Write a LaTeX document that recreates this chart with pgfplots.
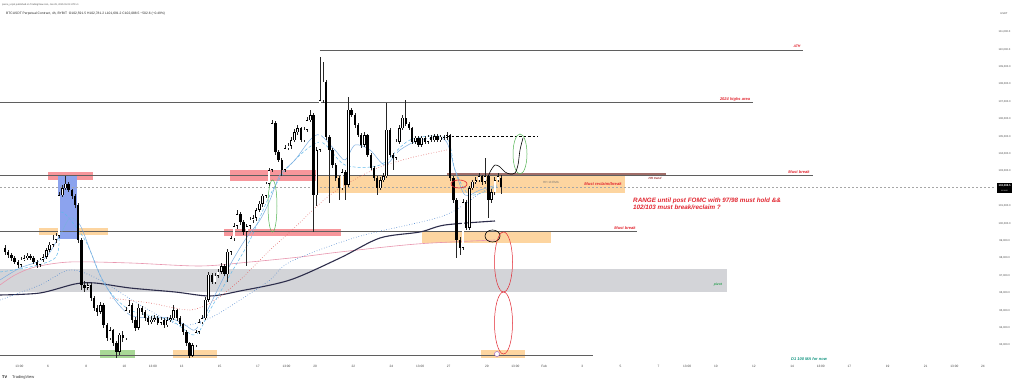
\documentclass[border=0pt]{standalone}
\usepackage{pgfplots}
\pgfplotsset{compat=1.18}
\usepackage{pgfplotstable}
\usetikzlibrary{backgrounds}
\usepackage{fontspec}
\setmainfont{Liberation Sans}

\definecolor{lvl}{RGB}{95,95,95}
\definecolor{redbox}{RGB}{247,150,155}
\definecolor{orbox}{RGB}{253,213,160}
\definecolor{bluebox}{RGB}{140,163,238}
\definecolor{graybox}{RGB}{211,212,216}
\definecolor{grnbox}{RGB}{168,216,150}
\definecolor{annred}{RGB}{226,38,48}
\definecolor{pinkma}{RGB}{232,150,175}
\definecolor{navyma}{RGB}{45,45,75}
\definecolor{ltblue}{RGB}{125,175,225}
\definecolor{dotblue}{RGB}{70,130,205}
\definecolor{dotred}{RGB}{225,95,95}
\definecolor{stepblue}{RGB}{95,185,235}
\definecolor{axtext}{RGB}{70,70,70}
\definecolor{hhtrend}{RGB}{160,110,105}
\definecolor{hhtxt}{RGB}{150,40,40}
\definecolor{grn}{RGB}{80,180,80}
\definecolor{pivotgreen}{RGB}{40,160,80}
\definecolor{tealtxt}{RGB}{20,150,130}
\definecolor{purp}{RGB}{150,80,200}

% 4h candles, i = candle index (time = Jan 3.75 + i/6 days)
\pgfplotstableread{
i o h l c
0 98590 98760 98180 98360
1 98360 98450 98000 98180
2 98180 98300 97850 98010
3 98010 98100 97650 97780
4 97780 97900 97440 97610
5 97610 98050 97500 97900
6 97900 98200 97820 98010
7 98010 98300 97900 98130
8 98130 98250 97880 98010
9 98010 98100 97650 97780
10 97780 97880 97440 97610
11 97610 98000 97500 97900
12 97900 98250 97800 98070
13 98070 98600 97950 98470
14 98470 98950 98350 98760
15 98760 99330 98650 99050
16 99050 99450 98900 99280
17 99280 101800 99160 101630
18 101630 102200 101500 102030
19 102030 102720 101900 102270
20 102270 102400 101800 101920
21 101920 102000 101400 101580
22 101580 101700 100900 101060
23 101060 101150 98900 99050
24 99050 99150 96170 96460
25 96460 96700 96050 96290
26 96290 96650 96150 96460
27 96460 96550 95550 95710
28 95710 95850 94950 95140
29 95140 95300 94700 94910
30 94910 95500 94800 95310
31 95310 95400 94000 94160
32 94160 94300 93250 93410
33 93410 94050 93300 93870
34 93870 93950 92950 93130
35 93130 93250 92270 92610
36 92610 93700 92450 93590
37 93590 93800 93200 93410
38 93410 95200 93300 95020
39 95020 95600 94850 95310
40 95310 95400 94300 94450
41 94450 94600 93800 93990
42 93990 95350 93900 95140
43 95140 95250 94750 94910
44 94910 95000 94400 94560
45 94560 94700 94150 94330
46 94330 94650 94200 94450
47 94450 94750 94350 94560
48 94560 94650 94150 94280
49 94280 94600 94150 94450
50 94450 94550 94000 94160
51 94160 94600 94050 94450
52 94450 94750 94350 94560
53 94560 95300 94450 95020
54 95020 95100 94400 94560
55 94560 94650 94100 94220
56 94220 94300 93600 93760
57 93760 93850 92950 93130
58 93130 93200 92270 92380
59 92380 93150 92300 93010
60 93010 93900 92900 93760
61 93760 94500 93650 94330
62 94330 94750 94200 94560
63 94560 95750 94450 95600
64 95600 97200 95500 97040
65 97040 97150 96500 96630
66 96630 97150 96500 96980
67 96980 97400 96850 97210
68 97210 97700 97100 97550
69 97550 97650 96950 97090
70 97090 98500 96630 98360
71 98360 99300 98200 99160
72 99160 100000 99000 99850
73 99850 100770 99700 100540
74 100540 100650 99900 100080
75 100080 100200 99350 99510
76 99510 99950 97550 99850
77 99850 100350 99700 100200
78 100200 100500 100050 100310
79 100310 100900 100150 100770
80 100770 101300 100650 101120
81 101120 101700 100950 101580
82 101580 102400 101450 102270
83 102270 103200 102150 103070
84 103070 105940 102950 105770
85 105770 105900 103950 104100
86 104100 104200 103500 103640
87 103640 103750 102720 103070
88 103070 104500 102950 104330
89 104330 104600 104200 104450
90 104450 104950 104300 104790
91 104790 105400 104650 105250
92 105250 105650 105100 105480
93 105480 105550 104650 104790
94 104790 105550 104650 105370
95 105370 106100 105250 105940
96 105940 106520 105800 106230
97 106230 106350 99510 101630
98 101630 104400 101000 104220
99 104220 109560 104100 107090
100 107090 109280 106900 108130
101 108130 108250 104790 104970
102 104970 105100 101180 104220
103 104220 104350 103200 103360
104 103360 103450 102450 102610
105 102610 102700 101350 102030
106 102030 103100 101900 102950
107 102950 103050 101350 102210
108 102210 107260 102100 106520
109 106520 106650 106100 106230
110 106230 106350 105500 105660
111 105660 105750 104950 105080
112 105080 105200 104350 104510
113 104510 105250 104400 105080
114 105080 105150 103800 103930
115 103930 104050 103050 103180
116 103180 103300 102450 102610
117 102610 102700 101630 102030
118 102030 102650 101900 102490
119 102490 102900 102350 102720
120 102720 106920 102600 105370
121 105370 105500 103800 103930
122 103930 104050 103070 103760
123 103760 104850 103650 104680
124 104680 105650 104550 105480
125 105480 106250 105350 106060
126 106060 107090 105600 105710
127 105710 105800 105350 105480
128 105480 105550 104550 104680
129 104680 105050 104550 104910
130 104910 105000 104400 104510
131 104510 105050 104400 104910
132 104910 105000 104550 104680
133 104680 105100 104550 104970
134 104970 105100 104650 104790
135 104790 105150 104700 105020
136 105020 105150 104650 104790
137 104790 105100 104650 104970
138 104970 105080 104800 104910
139 104910 105250 104800 105080
140 105080 105150 102450 102610
141 102610 102700 101200 101350
142 101350 101450 98010 99050
143 99050 99200 98180 98590
144 98590 101400 98450 101230
145 101230 101350 99600 99740
146 99740 102150 99600 102030
147 102030 102500 101900 102380
148 102380 102650 102250 102490
149 102490 102900 102350 102720
150 102720 102800 102200 102380
151 102380 103760 102250 102720
152 102720 102800 100310 101350
153 101350 101950 101200 101800
154 101800 102650 101650 102490
155 102490 102900 102350 102720
156 102591.5 102781.2 101691.2 102088.5
}\candles

\tikzset{ann/.style={font=\fontsize{4}{4.5}\selectfont\bfseries\itshape, text=annred, inner sep=0pt}}
\pgfplotsset{candlebar/.style={draw=none, mark=none, forget plot, error bars/y dir=both, error bars/y explicit, error bars/error mark=none}}

\begin{document}
\begin{tikzpicture}
\begin{axis}[
  scale only axis, width=995pt, height=348pt,
  xmin=3.484, xmax=55.633, ymin=92264, ymax=112264,
  axis line style={draw=none},
  tick style={draw=none},
  major tick length=0pt,
  scaled y ticks=false,
  ytick={93000,94000,...,111000},
  yticklabel pos=right,
  /pgf/number format/assume math mode=true,
  yticklabel={\pgfmathprintnumber[fixed,fixed zerofill,precision=1,1000 sep={,}]{\tick}},
  yticklabel style={anchor=center, xshift=9.5pt, font=\fontsize{2.7}{3}\selectfont, text=axtext},
  xtick={4.5,6,8,10,11.5,13,15,17,18.5,20,22,24,25.5,27,29,30.5,32,34,36,38,39.5,41,43,45,46.5,48,50,52,53.5,55},
  xticklabels={13:00,6,8,10,13:00,13,15,17,13:00,20,22,24,13:00,27,29,13:00,Feb,3,5,7,13:00,10,12,14,13:00,17,19,21,13:00,24},
  xticklabel style={anchor=center, yshift=-8pt, font=\fontsize{3.2}{4}\selectfont, text=axtext},
]
\coordinate (O) at (rel axis cs:0,0);
% zones
\fill[graybox] (axis cs:3.484,96058) rectangle (axis cs:41.587,97380);
\fill[orbox] (axis cs:20.15,101747) rectangle (axis cs:36.241,102724);
\fill[orbox] (axis cs:25.601,98874) rectangle (axis cs:32.362,99563);
\fill[orbox] (axis cs:5.528,99334) rectangle (axis cs:9.144,99736);
\fill[orbox] (axis cs:12.551,92264) rectangle (axis cs:14.857,92725);
\fill[orbox] (axis cs:28.694,92264) rectangle (axis cs:31.0,92725);
\fill[grnbox] (axis cs:8.725,92264) rectangle (axis cs:10.56,92725);
\fill[redbox] (axis cs:6.0,102494) rectangle (axis cs:8.358,102954);
\fill[redbox] (axis cs:15.539,102437) rectangle (axis cs:20.151,103069);
\fill[redbox] (axis cs:15.224,99276) rectangle (axis cs:21.356,99678);
\fill[bluebox] (axis cs:6.524,99104) rectangle (axis cs:7.52,102724);

% levels
\addplot[lvl, line width=0.8pt] coordinates {(20.255,109925) (45.57,109925)};
\addplot[lvl, line width=0.8pt] coordinates {(3.484,106936) (42.949,106936)};
\addplot[lvl, line width=0.8pt] coordinates {(3.484,102753) (46.094,102753)};
\addplot[hhtrend, line width=1.1pt] coordinates {(26.912,102839) (38.39,102839)};
\addplot[lvl, line width=0.8pt] coordinates {(3.484,99563) (36.87,99563)};
\addplot[lvl, line width=0.8pt] coordinates {(3.484,92437) (34.564,92437)};
\addplot[black!35, line width=0.5pt, dash pattern=on 2pt off 2pt] coordinates {(3.484,102088.5) (55.633,102088.5)};

% moving averages
\addplot[pinkma, line width=0.6pt, smooth] coordinates {(3.484,96460) (4.270,97035) (5.318,97494) (7.153,97782) (10.297,97725) (13.966,97552) (16.587,97782) (19.207,98069) (21.304,98357) (25.339,98817) (29.427,99046)};
\addplot[navyma, line width=1.1pt, smooth] coordinates {(3.484,95885) (5.580,96000) (7.415,96518) (8.463,96575) (10.297,96288) (12.656,96058) (14.490,95828) (16.063,96115) (18.683,96747) (21.304,98012) (23.400,99161) (25.497,99506) (26.807,99908) (29.427,100138)};
\addplot[dotblue, line width=0.6pt, dotted, smooth] coordinates {(3.484,95598) (5.580,96460) (7.153,97322) (8.725,96747) (10.822,95311) (12.918,94161) (14.490,94564) (16.063,95598) (17.635,96747) (18.683,97782) (22.195,99219) (26.702,100425) (28.746,101805) (29.532,102092)};
\addplot[dotred, line width=0.6pt, dotted, smooth] coordinates {(9.249,95713) (11.346,95426) (13.442,95024) (14.752,95598) (16.063,96747) (17.635,98471) (18.683,99506) (20.780,101632) (23.033,103069) (24.972,103759) (26.912,104218)};
\addplot[stepblue, line width=0.5pt, densely dashed, smooth] coordinates {(3.484,97207) (6.367,98012) (6.629,100656) (7.939,99046) (8.987,96460) (10.297,95024) (12.394,94449) (13.704,93587) (14.490,95024) (15.539,97035) (16.587,99046) (17.635,101632) (18.683,103356) (20.255,104678) (21.566,103356) (23.400,103356) (24.972,104793) (26.860,104908) (27.331,103069) (28.117,101632) (29.532,102150)};
\addplot[ltblue, line width=0.5pt, smooth] coordinates {(3.484,96747) (4.532,97437) (5.843,98012) (6.629,99334) (7.153,100311) (7.677,99908) (8.201,98471) (8.725,97035) (9.511,95598) (10.297,94736) (11.346,94564) (12.394,94564) (13.180,94161) (13.704,93874) (14.228,94736) (14.752,95885) (15.539,97609) (16.325,99046) (17.111,100196) (17.635,101345) (18.159,102782) (18.946,103644) (19.731,104793) (20.255,105081) (21.042,104218) (21.566,103644) (22.090,104506) (22.876,104218) (23.662,103356) (24.448,104218) (25.497,104793) (26.807,104793) (27.331,103069) (27.855,101632) (28.641,101920) (29.532,102207)};

% candles: wicks, bodies, hollow up-bodies
\addplot[candlebar, error bars/error bar style={draw=black!85, line width=0.55pt, solid}]
  table[x expr=3.75+\thisrow{i}/6, y expr=(\thisrow{h}+\thisrow{l})/2, y error expr=(\thisrow{h}-\thisrow{l})/2] {\candles};
\addplot[candlebar, error bars/error bar style={draw=black, line width=2.4pt, solid}]
  table[x expr=3.75+\thisrow{i}/6, y expr=(\thisrow{o}+\thisrow{c})/2, y error expr={max(abs(\thisrow{c}-\thisrow{o})/2,30)}] {\candles};
\addplot[candlebar, restrict expr to domain={\thisrow{c}-\thisrow{o}}{1:1000000}, error bars/error bar style={draw=white, line width=1.5pt, solid}]
  table[x expr=3.75+\thisrow{i}/6, y expr=(\thisrow{o}+\thisrow{c})/2, y error expr={max(abs(\thisrow{c}-\thisrow{o})/2-30,0)}] {\candles};

% drawings
\addplot[black, line width=0.6pt, dash pattern=on 2.5pt off 2pt] coordinates {(26.912,105023) (31.681,105023)};
\draw[grn, line width=0.5pt] (axis cs:17.766,101000) ellipse [x radius=4.5pt, y radius=26pt];
\draw[grn, line width=0.5pt] (axis cs:30.738,103989) ellipse [x radius=7pt, y radius=20pt];
\draw[annred, line width=0.6pt] (axis cs:27.541,102265) ellipse [x radius=8pt, y radius=4pt];
\draw[black, line width=0.6pt] (axis cs:29.297,99276) ellipse [x radius=7.5pt, y radius=6pt];
\draw[annred, line width=0.5pt] (axis cs:29.873,97782) ellipse [x radius=9pt, y radius=30pt];
\draw[annred, line width=0.5pt] (axis cs:29.873,94276) ellipse [x radius=9pt, y radius=31pt];
\addplot[black, line width=0.6pt, smooth] coordinates {(28.998,102437) (29.166,102954) (29.427,103356) (29.690,103241) (29.952,102954) (30.214,102839) (30.476,102897) (30.633,103356) (30.738,104218) (30.895,104908)};
\end{axis}

\pgfresetboundingbox
\begin{scope}[shift={(O)}, yshift=-24pt, x=1pt, y=1pt]
\path[use as bounding box] (0,0) rectangle (1024,382);
\begin{scope}[on background layer]
\fill[white] (0,0) rectangle (1024,382);
\end{scope}
% header
\node[anchor=west, inner sep=0pt, font=\fontsize{2.4}{3}\selectfont, text=black!70] at (2,377) {pierre\_vcpnl published on TradingView.com, Jan 29, 2025 15:23 UTC+1};
\node[anchor=west, inner sep=0pt, font=\fontsize{3.3}{4}\selectfont, text=black!85] at (6,368) {BTCUSDT Perpetual Contract, 4h, BYBIT~~O102,591.5 H102,781.2 L101,691.2 C102,088.5 −502.6 (−0.49\%)};
\node[inner sep=0pt, font=\fontsize{2.6}{3}\selectfont, text=axtext] at (1004,368) {USDT};
% current price tag
\fill[black] (997,199) rectangle (1012,189);
\node[inner sep=0pt, font=\fontsize{2.7}{3}\selectfont\bfseries, text=white] at (1004.5,196) {102,088.5};
\node[inner sep=0pt, font=\fontsize{1.7}{2}\selectfont, text=white] at (1004.5,191.5) {01:36:50};
% logo
\node[anchor=west, inner sep=0pt, font=\fontsize{3.8}{4}\selectfont\bfseries] at (2,5) {TV};
\node[anchor=west, inner sep=0pt, font=\fontsize{4}{4.5}\selectfont, text=black!80] at (12,5) {TradingView};
% annotations
\node[ann, font=\fontsize{3.5}{4}\selectfont\bfseries\itshape] at (797,336) {ATH};
\node[ann] at (735,283) {2024 highs area};
\node[ann] at (799,210) {Must break};
\node[ann, text=hhtxt, font=\fontsize{3}{4}\selectfont\bfseries\itshape] at (655,204) {HH trend};
\node[ann, font=\fontsize{4.1}{4.5}\selectfont\bfseries\itshape] at (603,198) {Must reclaim/break};
\node[inner sep=0pt, font=\fontsize{3}{4}\selectfont, text=black!55] at (551,200) {HH 13 EMA};
\node[ann, font=\fontsize{6.3}{7.5}\selectfont\bfseries\itshape, anchor=west, align=left] at (633,178) {RANGE until post FOMC with 97/98 must hold \&\&\\102/103 must break/reclaim ?};
\node[ann] at (625,154) {Must break};
\node[ann, text=pivotgreen, font=\fontsize{3.4}{4}\selectfont\bfseries\itshape] at (718,97) {pivot};
\node[ann, text=tealtxt] at (809,23) {D1 100 MA for now};
\draw[purp, fill=white, line width=0.4pt] (497,28) circle (2.5pt);
\end{scope}
\end{tikzpicture}
\end{document}
